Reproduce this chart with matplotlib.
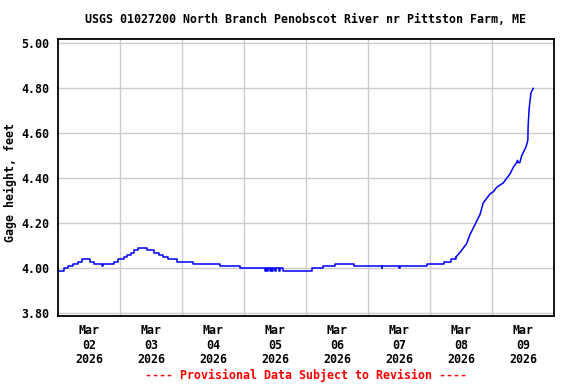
import matplotlib
matplotlib.use("Agg")
import matplotlib.pyplot as plt
import numpy as np

# hours since Mar 02 2026 00:00, gage height (ft)
hours = [0.0, 2.3, 4.0, 5.8, 7.6, 9.2, 12.4, 13.9, 16.9, 17.3, 21.8, 23.3,
         25.5, 26.8, 28.3, 29.5, 30.9, 34.3, 37.3, 39.0, 40.8, 42.7, 45.9,
         52.4, 62.8, 70.5,
         80.1, 80.4, 81.0, 81.3, 82.0, 82.3, 83.0, 83.3, 84.0, 84.3, 85.5, 85.8,
         87.1, 98.2, 102.6, 107.2, 114.6, 125.3, 125.6, 132.1, 132.5,
         142.7, 149.5, 152.0, 154.0,
         155.6, 156.9, 158.2, 159.5, 160.8, 162.1, 163.4, 164.6, 165.9, 167.2,
         168.5, 169.8, 171.1, 172.4, 173.7, 175.0, 176.3, 177.6, 177.9, 178.1,
         178.8, 179.5, 181.2, 181.9, 182.0, 182.4, 183.1, 184.0]
gage = [3.99, 4.00, 4.01, 4.02, 4.03, 4.04, 4.03, 4.02, 4.01, 4.02, 4.03, 4.04,
        4.05, 4.06, 4.07, 4.08, 4.09, 4.08, 4.07, 4.06, 4.05, 4.04, 4.03,
        4.02, 4.01, 4.00,
        3.99, 4.00, 3.99, 4.00, 3.99, 4.00, 3.99, 4.00, 3.99, 4.00, 3.99, 4.00,
        3.99, 4.00, 4.01, 4.02, 4.01, 4.00, 4.01, 4.00, 4.01,
        4.02, 4.03, 4.04, 4.05,
        4.07, 4.09, 4.11, 4.15, 4.18, 4.21, 4.24, 4.29, 4.31, 4.33,
        4.34, 4.36, 4.37, 4.38, 4.40, 4.42, 4.45, 4.47, 4.48, 4.47,
        4.47, 4.50, 4.54, 4.57, 4.63, 4.71, 4.78, 4.80]
rise_start = 50  # index where the stage begins climbing steadily

day_labels = ["Mar\n02\n2026", "Mar\n03\n2026", "Mar\n04\n2026", "Mar\n05\n2026",
              "Mar\n06\n2026", "Mar\n07\n2026", "Mar\n08\n2026", "Mar\n09\n2026"]
y_ticks = [3.80, 4.00, 4.20, 4.40, 4.60, 4.80, 5.00]

font = "DejaVu Sans Mono"
fs = 8.4

fig = plt.figure(figsize=(5.76, 3.84), dpi=100)
ax = fig.add_axes([0.1007, 0.177, 0.861, 0.7207])

days = np.array(hours) / 24.0
ax.plot(days[:rise_start + 1], gage[:rise_start + 1], color="#0000ff", lw=1.1,
        drawstyle="steps-post")
ax.plot(days[rise_start:], gage[rise_start:], color="#0000ff", lw=1.1)

ax.set_xlim(0, 8)
ax.set_ylim(3.788, 5.018)

ax.set_xticks(np.arange(1, 8))
ax.set_xticklabels([])
ax.set_xticks(np.arange(8) + 0.5, minor=True)
ax.set_xticklabels(day_labels, minor=True, fontfamily=font, fontweight="bold",
                   fontsize=fs, linespacing=1.15)
ax.set_yticks(y_ticks)
ax.set_yticklabels(["%.2f" % v for v in y_ticks], fontfamily=font,
                   fontweight="bold", fontsize=fs)
ax.tick_params(axis="both", which="both", length=0)
ax.tick_params(axis="x", which="minor", pad=6)
ax.tick_params(axis="y", pad=6)

ax.grid(True, which="major", color="#cccccc", lw=1.0)
ax.set_axisbelow(True)
for s in ax.spines.values():
    s.set_linewidth(1.3)

ax.set_ylabel("Gage height, feet", fontfamily=font, fontweight="bold", fontsize=fs)
ax.yaxis.set_label_coords(-0.082, 0.484)
fig.text(0.531, 0.948, "USGS 01027200 North Branch Penobscot River nr Pittston Farm, ME",
         ha="center", va="center", fontfamily=font, fontweight="bold", fontsize=fs)
fig.text(0.531, 0.023, "---- Provisional Data Subject to Revision ----",
         ha="center", va="center", fontfamily=font, fontweight="bold",
         fontsize=fs, color="red")

fig.savefig("out.png", dpi=100)
